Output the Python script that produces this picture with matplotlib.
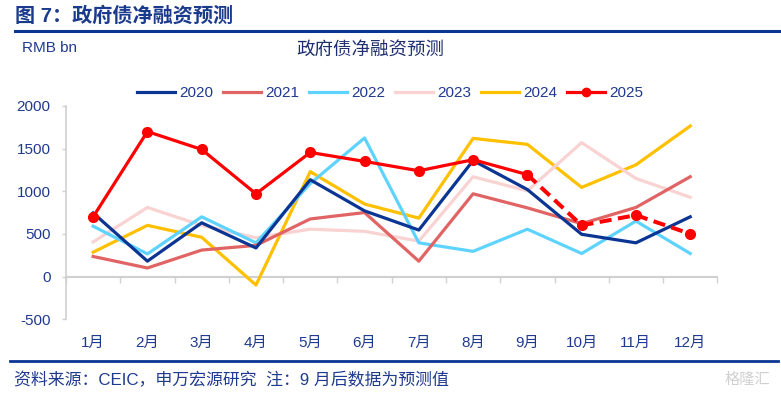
import matplotlib
matplotlib.use("Agg")
import matplotlib.pyplot as plt
from matplotlib.lines import Line2D

plt.rcParams['font.family'] = ['Liberation Sans', 'Noto Sans CJK SC', 'DejaVu Sans']

months = ["1月", "2月", "3月", "4月", "5月", "6月", "7月", "8月", "9月", "10月", "11月", "12月"]
v2020 = [745, 180, 630, 335, 1135, 770, 545, 1360, 1020, 495, 395, 700]
v2021 = [235, 100, 310, 365, 675, 750, 180, 970, 805, 620, 810, 1170]
v2022 = [590, 265, 700, 395, 1090, 1625, 395, 295, 555, 270, 650, 270]
v2023 = [405, 810, 600, 455, 555, 530, 415, 1170, 1005, 1570, 1150, 930]
v2024 = [285, 600, 460, -100, 1230, 850, 685, 1620, 1550, 1045, 1310, 1765]
v2025 = [700, 1700, 1490, 970, 1455, 1350, 1240, 1370, 1195, 600, 720, 500]
forecast_start = 8  # index of 9月
yticks = [-500, 0, 500, 1000, 1500, 2000]

navy = "#1F3A8F"
colors = {"2020": "#0A3592", "2021": "#E06464", "2022": "#5FD3FF",
          "2023": "#F9D2D2", "2024": "#FFC000", "2025": "#FF0000"}

fig = plt.figure(figsize=(7.81, 3.94), dpi=100)
ax = fig.add_axes([0.0845, 0.19, 0.834, 0.541])

x = list(range(1, 13))
lw = 2.3
ax.plot(x, v2024, color=colors["2024"], lw=lw, zorder=2)
ax.plot(x, v2023, color=colors["2023"], lw=lw, zorder=2)
ax.plot(x, v2022, color=colors["2022"], lw=lw, zorder=3)
ax.plot(x, v2021, color=colors["2021"], lw=lw, zorder=3)
ax.plot(x, v2020, color=colors["2020"], lw=lw, zorder=4)
ax.plot(x[:forecast_start + 1], v2025[:forecast_start + 1], color=colors["2025"], lw=lw,
        marker="o", markersize=7, zorder=5)
ax.plot(x[forecast_start:], v2025[forecast_start:], color=colors["2025"], lw=lw + 0.6,
        ls=(0, (3, 1.6)), marker="o", markersize=7, zorder=5)

ax.set_xlim(0.5, 12.5)
ax.set_ylim(-500, 2000)
ax.set_yticks(yticks)
ax.set_yticklabels([str(t) for t in yticks])
ax.set_xticks(x)
ax.set_xticklabels(months)
ax.tick_params(axis='x', length=0, pad=12, labelsize=11, colors=navy)
ax.tick_params(axis='y', length=3, width=1, color="#D0D0D0", pad=8, labelsize=11, labelcolor=navy)
for s in ["top", "right", "bottom"]:
    ax.spines[s].set_visible(False)
ax.spines["left"].set_color("#D0D0D0")
ax.spines["left"].set_linewidth(1.2)

# zero line with category boundary ticks
sec = ax.secondary_xaxis(0.2)
sec.set_xticks([i + 0.5 for i in range(0, 13)])
sec.set_xticklabels([])
sec.tick_params(length=4, width=1, color="#D0D0D0")
sec.spines["bottom"].set_color("#D0D0D0")
sec.spines["bottom"].set_linewidth(1.5)

handles = [Line2D([], [], color=colors[k], lw=lw) for k in ["2020", "2021", "2022", "2023", "2024"]]
handles.append(Line2D([], [], color=colors["2025"], lw=lw, marker="o", markersize=6))
leg = fig.legend(handles, ["2020", "2021", "2022", "2023", "2024", "2025"], ncol=6,
                 loc="center", bbox_to_anchor=(390 / 781, 1 - 93 / 394), frameon=False,
                 fontsize=11, handlelength=2.5, columnspacing=0.65, handletextpad=0.25)
for t in leg.get_texts():
    t.set_color(navy)

# headers
fig.text(15 / 781, 1 - 16 / 394, "图 7：政府债净融资预测", fontsize=14.5, fontweight="bold",
         color="#1A3A8C", va="center", ha="left")
fig.add_artist(Line2D([15 / 781, 1.0], [1 - 31 / 394, 1 - 31 / 394], color="#0A3592", lw=2.2))
fig.text(22 / 781, 1 - 48 / 394, "RMB bn", fontsize=11, color=navy, va="center", ha="left")
fig.text(370 / 781, 1 - 50 / 394, "政府债净融资预测", fontsize=13.3, color="#1F2F6F", va="center", ha="center")

# footer
fig.add_artist(Line2D([10 / 781, 778 / 781], [1 - 361 / 394, 1 - 361 / 394], color="#0A3592", lw=2.0))
fig.text(14 / 781, 1 - 380 / 394, "资料来源：CEIC，申万宏源研究  注：9 月后数据为预测值", fontsize=12.2,
         color=navy, va="center", ha="left")
fig.text(770 / 781, 1 - 380 / 394, "格隆汇", fontsize=11, color="#D0D0D0", va="center", ha="right")

fig.savefig("out.png", dpi=100)
